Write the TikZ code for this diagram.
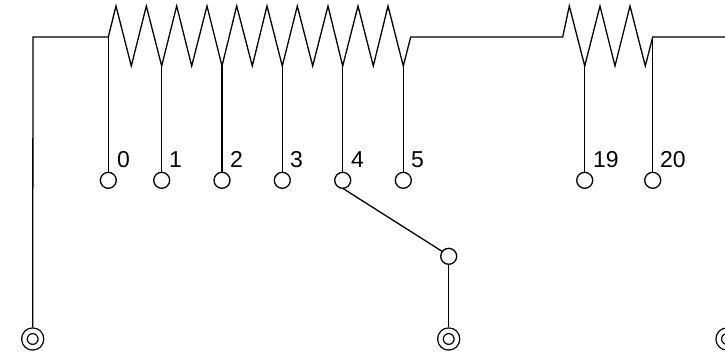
\documentclass[tikz,border=0pt]{standalone}
\usepackage{fontspec}
\setmainfont{Liberation Sans}
\tikzset{
  wire/.style={draw=black,line width=1.3pt,line join=miter},
  term/.style={circle,draw=black,line width=1.3pt,minimum size=16pt,inner sep=0pt,outer sep=0pt},
  jack/.style={circle,draw=black,line width=1.3pt,double=white,double distance=4.2pt,minimum size=16.5pt,inner sep=0pt,outer sep=3.4pt},
  lab/.style={anchor=base west,inner sep=0pt,font=\fontsize{23}{23}\selectfont,text=black}
}
\begin{document}
\begin{tikzpicture}[x=1pt,y=-1pt]
\useasboundingbox (0,0) rectangle (725,356);
\clip (0,0) rectangle (725,356);
% tap points on the resistors
\coordinate (t0) at (108.3,37);
\coordinate (t1) at (161.7,66);
\coordinate (t2) at (222,66);
\coordinate (t3) at (282.3,66);
\coordinate (t4) at (342.7,66);
\coordinate (t5) at (403.3,66);
\coordinate (t19) at (584.7,66);
\coordinate (t20) at (652.7,37);
\coordinate (corner) at (33,37);
\coordinate (rs) at (562.7,37);
\coordinate (re) at (410.7,37);
\coordinate (far) at (725,37);
% terminals
\node[term] (n0) at (108.3,180.3) {};
\node[term] (n1) at (161.7,180.3) {};
\node[term] (n2) at (222,180.3) {};
\node[term] (n3) at (282.3,180.3) {};
\node[term] (n4) at (342.7,180.3) {};
\node[term] (n5) at (403.3,180.3) {};
\node[term] (n19) at (584.7,180.3) {};
\node[term] (n20) at (652.7,180.3) {};
\node[term] (wiper) at (448.7,256.3) {};
\node[jack] (j1) at (32.7,339) {};
\node[jack] (j2) at (448.7,339) {};
\node[jack] (j3) at (727,339) {};
% labels
\node[lab] (l0) at (117,167) {0};
\node[lab] (l1) at (169,167) {1};
\node[lab] (l2) at (230,167) {2};
\node[lab] (l3) at (290,167) {3};
\node[lab] (l4) at (351,167) {4};
\node[lab] (l5) at (411,167) {5};
\node[lab] (l19) at (593,167) {19};
\node[lab] (l20) at (660,167) {20};
% resistors
\draw[wire] (t0) -- (116,6) -- (131.3,66) -- (146.3,6) -- (t1) -- (176.7,6) -- (191.7,66) -- (207,6) -- (t2) -- (236.7,6) -- (252.3,66) -- (267,6) -- (t3) -- (297.3,6) -- (312.7,66) -- (328,6) -- (t4) -- (358,6) -- (373.3,66) -- (388,6) -- (t5) -- (re) -- (rs) -- (569.3,6) -- (t19) -- (600,6) -- (615,66) -- (630,6) -- (645.3,66) -- (t20) -- (far);
% leads
\draw[wire] (j1) -- (corner) -- (t0);
\foreach \k in {0,1,2,3,4,5,19,20} { \draw[wire] (t\k) -- (n\k); }
\draw[wire] (n4.south) -- (wiper.143);
\draw[wire] (wiper) -- (j2);
\end{tikzpicture}
\end{document}
